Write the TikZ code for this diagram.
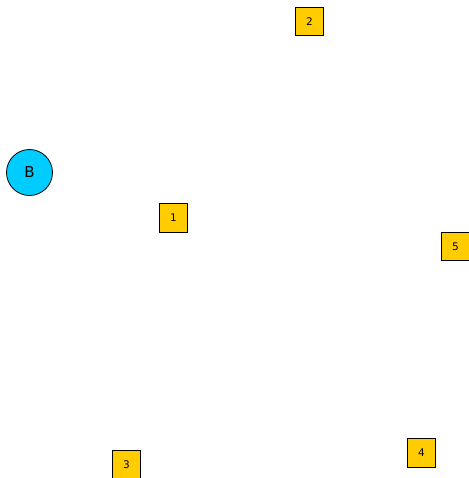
\documentclass[tikz,border=0pt]{standalone}
\usepackage{fontspec}
\setmainfont{DejaVu Sans}
\definecolor{bcyan}{HTML}{00CCFF}
\definecolor{byellow}{HTML}{FFCC00}
\begin{document}
\begin{tikzpicture}[x=1pt,y=-1pt,
  sq/.style={draw=black,line width=0.8pt,fill=byellow,minimum size=28.5pt,inner sep=0pt,font=\fontsize{10.5}{12}\selectfont},
  circ/.style={circle,draw=black,line width=0.8pt,fill=bcyan,minimum size=46pt,inner sep=0pt,font=\fontsize{15}{16}\selectfont}]
\useasboundingbox (0,0) rectangle (468,478);
\node[circ] (B) at (29.5,172.5) {B};
\node[sq] (n1) at (173.5,218) {1};
\node[sq] (n2) at (309.5,21.5) {2};
\node[sq] (n3) at (126.5,465) {3};
\node[sq] (n4) at (421.5,453) {4};
\node[sq] (n5) at (455.5,246.5) {5};
\end{tikzpicture}
\end{document}
